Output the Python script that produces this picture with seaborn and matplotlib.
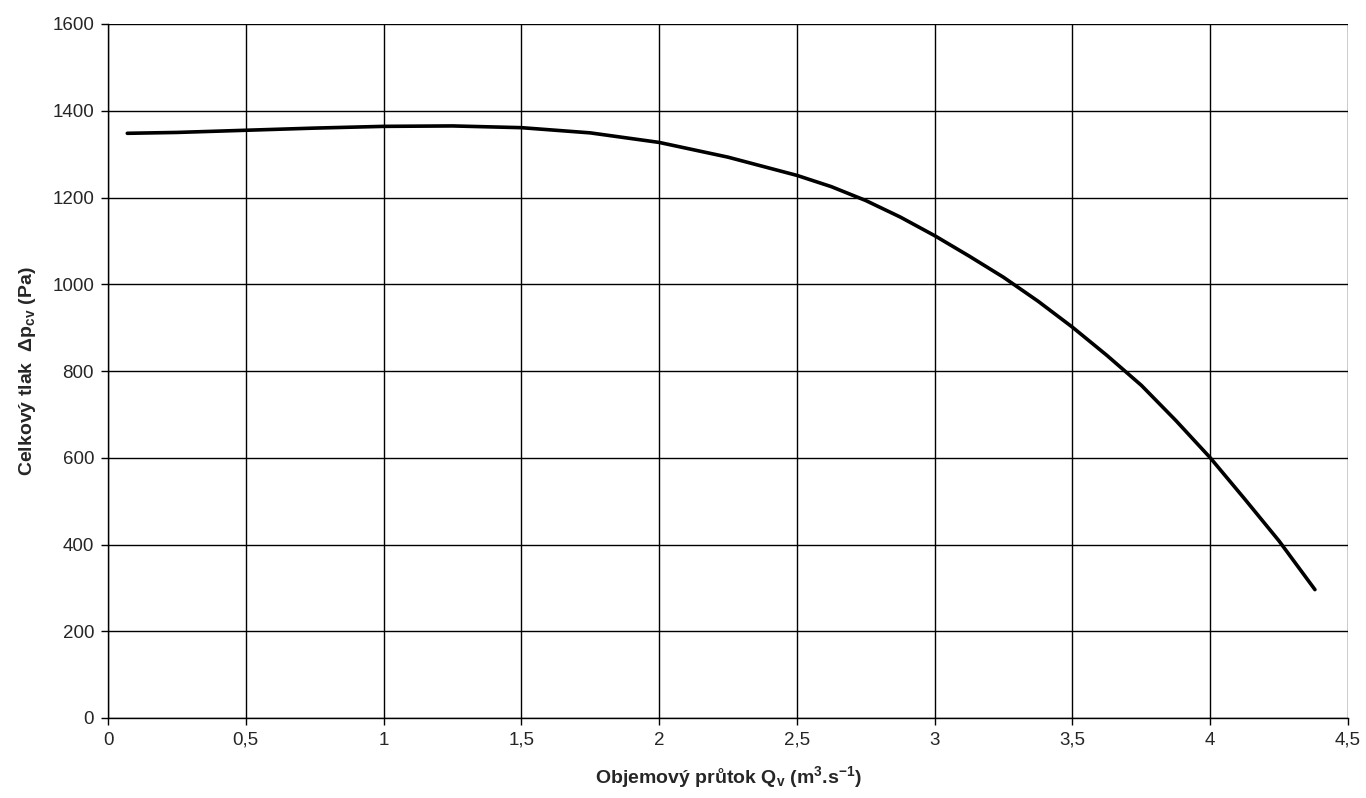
import seaborn as sns
import matplotlib.pyplot as plt
import numpy as np
import pandas as pd

# hodnoty
prutok = [0.07, 0.25, 0.5, 0.75, 1.0, 1.25, 1.5, 1.75, 2.0, 2.25, 2.5, 2.625,
          2.75, 2.875, 3.0, 3.125, 3.25, 3.375, 3.5, 3.625, 3.75, 3.875, 4.0,
          4.125, 4.25, 4.38]
tlak = [1348, 1350, 1355, 1360, 1364, 1365, 1361, 1349, 1327, 1293, 1251, 1225,
        1193, 1155, 1112, 1065, 1016, 961, 901, 836, 767, 686, 600,
        505, 408, 296]
x_ticks = [0, 0.5, 1, 1.5, 2, 2.5, 3, 3.5, 4, 4.5]
y_ticks = [0, 200, 400, 600, 800, 1000, 1200, 1400, 1600]

df = pd.DataFrame({"Q": prutok, "p": tlak})

sns.set_style("white")
plt.rcParams['font.family'] = ['Liberation Sans', 'DejaVu Sans']
plt.rcParams['mathtext.fontset'] = 'custom'
plt.rcParams['mathtext.rm'] = 'Liberation Sans'
plt.rcParams['mathtext.bf'] = 'Liberation Sans:bold'
plt.rcParams['mathtext.it'] = 'Liberation Sans:italic'

fig = plt.figure(figsize=(13.66, 7.98), dpi=100)
ax = fig.add_axes([108/1366, 1-718/798, 1240/1366, 694/798])

sns.lineplot(data=df, x="Q", y="p", ax=ax, color="black", linewidth=2.6)

ax.set_xlim(0, 4.5)
ax.set_ylim(0, 1600)
ax.set_xticks(x_ticks)
ax.set_yticks(y_ticks)
ax.set_xticklabels([f"{v:g}".replace(".", ",") for v in x_ticks], fontsize=13.5)
ax.set_yticklabels([str(v) for v in y_ticks], fontsize=13.5)
ax.grid(True, color="black", linewidth=1)
for s in ["top", "right"]:
    ax.spines[s].set_visible(False)
for s in ["left", "bottom"]:
    ax.spines[s].set_color("black")
    ax.spines[s].set_linewidth(1)
ax.tick_params(direction="out", length=5, width=1, color="black", pad=5,
               bottom=True, left=True)

ax.set_xlabel(r"Objemový průtok Q$_\mathbf{v}$ (m$^\mathbf{3}$.s$^\mathbf{-1}$)",
              fontsize=14, fontweight="bold", labelpad=11)
ax.set_ylabel(r"Celkový tlak  Δp$_\mathbf{cv}$ (Pa)",
              fontsize=14, fontweight="bold", labelpad=10)

plt.savefig("out.png", dpi=100)
